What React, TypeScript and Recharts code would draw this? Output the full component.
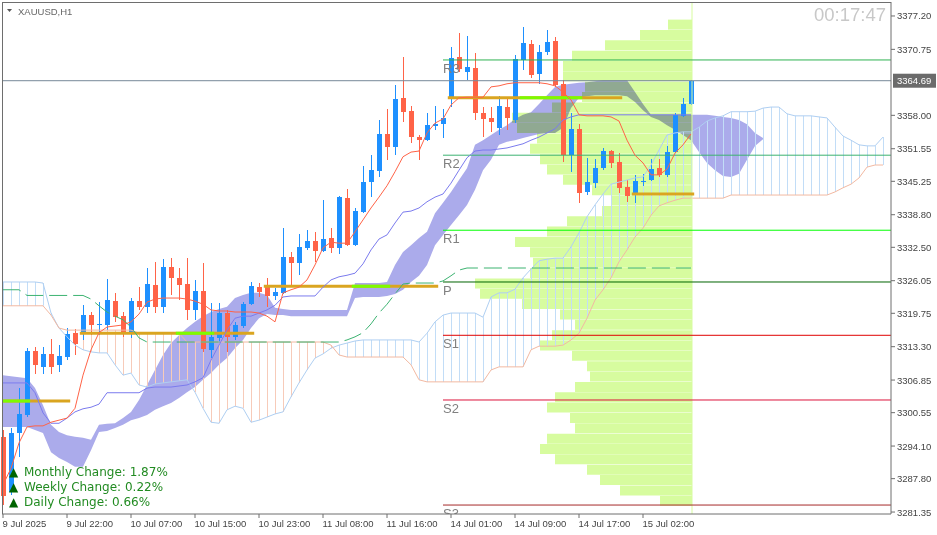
import React from 'react'
import { ComposedChart, BarChart, Bar, Line, Area, XAxis, YAxis, ReferenceLine } from 'recharts'

const W = 937
const H = 535

// price scale labels printed by the terminal
const priceTicks = [3377.2, 3370.75, 3358.0, 3351.55, 3345.25, 3338.8, 3332.5, 3326.05, 3319.75, 3313.3, 3306.85, 3300.55, 3294.1, 3287.8, 3281.35]
const timeTickBars = [0, 8, 16, 24, 32, 40, 48, 56, 64, 72, 80]
const timeTickLabels = ['9 Jul 2025', '9 Jul 22:00', '10 Jul 07:00', '10 Jul 15:00', '10 Jul 23:00', '11 Jul 08:00', '11 Jul 16:00', '14 Jul 01:00', '14 Jul 09:00', '14 Jul 17:00', '15 Jul 02:00']
const lastPrice = 3364.69

// H1 candles, 9 Jul 14:00 .. 15 Jul 08:00
const open = [3295.9, 3285.2, 3296.6, 3300.1, 3312.5, 3309.4, 3311.9, 3309.8, 3311.3, 3315.9,
  3315.9, 3319.4, 3317.5, 3317.5, 3322.1, 3319.2, 3315.8, 3322.1, 3321.0, 3325.2,
  3321.0, 3328.7, 3326.6, 3325.4, 3320.4, 3324.1, 3312.7, 3315.0, 3319.8, 3315.2,
  3317.3, 3321.5, 3324.8, 3325.2, 3323.1, 3323.7, 3330.6, 3329.5, 3332.4, 3333.7,
  3331.8, 3334.3, 3332.4, 3342.0, 3333.0, 3339.3, 3345.1, 3347.3, 3354.4, 3351.9,
  3361.4, 3358.8, 3353.8, 3353.2, 3355.9, 3356.3, 3361.2, 3369.3, 3366.4, 3367.2,
  3358.5, 3357.5, 3355.6, 3359.6, 3357.1, 3368.7, 3371.8, 3366.0, 3370.2, 3372.4,
  3364.1, 3350.3, 3355.4, 3343.2, 3344.9, 3347.8, 3351.1, 3349.0, 3344.2, 3342.6,
  3345.1, 3345.5, 3347.8, 3346.5, 3350.9, 3357.9, 3360.2]
const high = [3297.2, 3297.6, 3305.3, 3313.0, 3313.2, 3313.2, 3314.8, 3313.6, 3316.9, 3316.7,
  3321.4, 3320.0, 3321.9, 3326.4, 3323.7, 3320.0, 3322.7, 3324.8, 3328.5, 3329.7,
  3330.2, 3330.4, 3328.5, 3330.4, 3326.2, 3329.5, 3321.7, 3321.7, 3320.4, 3318.1,
  3321.9, 3325.8, 3325.6, 3326.6, 3324.6, 3336.2, 3331.6, 3335.1, 3335.9, 3335.5,
  3341.6, 3336.2, 3342.4, 3343.8, 3340.1, 3348.2, 3350.3, 3357.1, 3359.2, 3363.9,
  3369.3, 3359.8, 3354.2, 3358.5, 3359.8, 3359.2, 3371.2, 3373.9, 3373.3, 3370.1,
  3359.6, 3359.6, 3361.7, 3361.4, 3369.7, 3375.1, 3372.6, 3371.6, 3374.5, 3373.1,
  3364.8, 3358.5, 3356.3, 3349.8, 3349.6, 3351.7, 3351.3, 3350.7, 3345.5, 3346.5,
  3346.7, 3349.6, 3349.6, 3352.1, 3358.5, 3361.4, 3364.8]
const low = [3282.7, 3284.6, 3292.0, 3299.7, 3308.0, 3308.0, 3308.0, 3308.4, 3310.7, 3311.7,
  3314.6, 3315.6, 3315.6, 3316.5, 3318.1, 3315.2, 3315.0, 3320.4, 3319.8, 3319.8,
  3319.8, 3323.3, 3322.3, 3318.5, 3318.5, 3312.3, 3311.1, 3314.0, 3312.3, 3314.6,
  3316.9, 3321.4, 3322.9, 3321.0, 3322.3, 3323.5, 3324.8, 3327.2, 3332.0, 3329.7,
  3331.6, 3331.4, 3331.2, 3332.8, 3332.8, 3339.2, 3342.2, 3346.1, 3349.4, 3350.3,
  3356.7, 3352.7, 3349.4, 3353.1, 3355.2, 3353.6, 3359.6, 3366.4, 3364.8, 3357.1,
  3353.8, 3354.8, 3354.2, 3355.2, 3356.5, 3366.8, 3365.2, 3364.1, 3369.7, 3363.5,
  3349.0, 3347.1, 3341.1, 3342.6, 3344.0, 3347.4, 3347.8, 3343.0, 3341.3, 3341.1,
  3344.4, 3345.3, 3346.1, 3346.1, 3350.7, 3357.7, 3360.0]
const close = [3284.5, 3296.6, 3300.3, 3312.5, 3309.8, 3311.9, 3309.4, 3311.5, 3315.8, 3313.8,
  3319.4, 3317.5, 3317.7, 3322.3, 3319.0, 3315.9, 3322.1, 3321.0, 3325.4, 3321.0,
  3328.7, 3326.6, 3325.2, 3320.4, 3324.1, 3312.9, 3315.2, 3319.8, 3315.2, 3317.5,
  3321.5, 3325.0, 3323.9, 3323.1, 3323.9, 3330.6, 3329.5, 3332.6, 3333.7, 3331.8,
  3334.1, 3332.4, 3342.2, 3333.0, 3339.5, 3345.1, 3347.4, 3354.4, 3351.9, 3361.2,
  3358.7, 3353.8, 3353.2, 3356.1, 3356.3, 3357.5, 3369.1, 3367.0, 3367.3, 3358.5,
  3357.3, 3356.7, 3359.8, 3357.5, 3368.9, 3372.0, 3365.8, 3370.2, 3372.2, 3363.9,
  3350.3, 3355.4, 3343.0, 3345.1, 3347.8, 3351.1, 3348.8, 3344.0, 3342.4, 3345.3,
  3345.3, 3347.6, 3346.5, 3350.9, 3358.1, 3360.2, 3364.69]

// ichimoku lines
const tenkan = [3286.6, 3289.8, 3294.7, 3297.8, 3298.0, 3298.0, 3298.7, 3299.1, 3299.5, 3301.4,
  3307.8, 3312.7, 3316.0, 3317.1, 3317.3, 3317.5, 3318.1, 3319.6, 3321.9, 3322.5,
  3322.7, 3322.7, 3322.7, 3322.5, 3322.1, 3321.5, 3320.4, 3320.2, 3320.2, 3320.0,
  3320.0, 3320.0, 3319.8, 3319.2, 3318.1, 3323.7, 3324.3, 3324.8, 3326.2, 3329.1,
  3332.4, 3333.5, 3333.3, 3333.3, 3335.5, 3337.8, 3340.1, 3342.2, 3344.4, 3347.1,
  3350.0, 3350.9, 3351.1, 3354.6, 3356.5, 3357.3, 3360.0, 3361.4, 3361.5, 3361.5,
  3361.5, 3363.5, 3363.7, 3364.1, 3364.3, 3364.3, 3364.3, 3364.3, 3364.1, 3363.7,
  3362.5, 3361.0, 3358.1, 3357.9, 3357.9, 3357.9, 3357.7, 3356.9, 3353.2, 3350.3,
  3348.8, 3346.5, 3346.5, 3347.6, 3350.7, 3352.3, 3354.4]
const kijun = [3306.3, 3306.3, 3306.3, 3306.3, 3304.4, 3300.5, 3298.5, 3298.5, 3299.5, 3300.7,
  3301.3, 3301.6, 3302.2, 3304.4, 3304.4, 3304.4, 3304.4, 3304.4, 3305.3, 3305.5,
  3305.5, 3305.5, 3305.7, 3305.9, 3306.5, 3307.3, 3310.7, 3313.6, 3316.5, 3318.8,
  3319.2, 3319.2, 3319.8, 3320.4, 3321.3, 3322.9, 3323.1, 3323.1, 3323.1, 3323.1,
  3324.8, 3326.2, 3326.8, 3327.1, 3327.5, 3329.3, 3332.0, 3334.1, 3334.9, 3337.2,
  3339.3, 3339.5, 3340.1, 3341.3, 3342.2, 3342.8, 3344.9, 3347.4, 3349.8, 3351.1,
  3351.3, 3351.3, 3351.5, 3351.7, 3352.1, 3352.5, 3353.2, 3353.8, 3354.6, 3355.4,
  3357.1, 3357.7, 3358.1, 3358.1, 3358.1, 3358.1, 3358.1, 3358.1, 3358.1, 3358.1,
  3358.1, 3358.1, 3358.1, 3358.1, 3358.1, 3358.1, 3358.1]
const dashedLevel = [3324.3, 3324.3, 3324.3, 3323.2, 3323.2, 3323.2, 3323.2, 3323.2, 3323.2, 3323.2,
  3323.2, 3322.5, 3321.2, 3320.0, 3319.2, 3318.5, 3317.1, 3315.0, 3314.2, 3314.2,
  3314.2, 3314.2, 3314.2, 3314.2, 3314.2, 3314.2, 3314.2, 3314.2, 3314.2, 3314.2,
  3314.2, 3314.2, 3314.2, 3314.2, 3314.2, 3314.2, 3314.2, 3314.2, 3314.2, 3314.2,
  3314.2, 3314.2, 3314.2, 3314.6, 3315.2, 3316.0, 3317.7, 3319.8, 3321.5, 3323.5,
  3325.4, 3325.6, 3325.6, 3325.6, 3325.6, 3326.0, 3327.0, 3328.1, 3328.5, 3328.5,
  3328.5, 3328.5, 3328.5, 3328.5, 3328.5, 3328.5, 3328.5, 3328.5, 3328.5, 3328.5,
  3328.5, 3328.5, 3328.5, 3328.5, 3328.5, 3328.5, 3328.5, 3328.5, 3328.5, 3328.5,
  3328.5, 3328.5, 3328.5, 3328.5, 3328.5, 3328.5, 3328.5]
const spanA = [3325.8, 3325.8, 3325.8, 3325.8, 3325.8, 3325.6, 3319.8, 3316.9, 3315.2, 3313.6,
  3312.7, 3312.3, 3312.1, 3312.1, 3309.8, 3307.8, 3308.2, 3305.9, 3305.5, 3306.1,
  3306.3, 3306.5, 3306.7, 3306.9, 3304.5, 3301.4, 3298.7, 3298.5, 3301.1, 3301.8,
  3301.4, 3298.7, 3299.1, 3299.7, 3300.3, 3300.7, 3303.6, 3306.3, 3308.8, 3311.1,
  3311.9, 3313.0, 3313.6, 3314.0, 3314.4, 3314.6, 3314.6, 3314.6, 3314.6, 3314.6,
  3314.6, 3314.6, 3314.2, 3315.9, 3318.1, 3319.4, 3319.8, 3319.8, 3319.8, 3319.8,
  3319.0, 3322.9, 3323.7, 3323.7, 3324.4, 3326.6, 3328.3, 3329.9, 3330.2, 3330.4,
  3330.4, 3332.6, 3335.3, 3338.4, 3340.7, 3342.8, 3344.7, 3345.1, 3345.5, 3345.9,
  3346.1, 3348.4, 3351.3, 3354.2, 3354.6, 3354.8, 3354.8, 3355.7, 3356.9, 3357.5,
  3357.9, 3358.7, 3358.7, 3358.7, 3358.8, 3359.4, 3359.6, 3359.6, 3358.3, 3357.9,
  3357.9, 3357.9, 3357.7, 3357.5, 3355.7, 3354.0, 3353.2, 3352.3, 3352.1, 3352.1,
  3353.8]
const spanB = [3321.2, 3321.2, 3321.2, 3321.2, 3321.2, 3321.2, 3319.4, 3316.9, 3316.5, 3316.5,
  3316.5, 3316.5, 3316.5, 3316.5, 3316.5, 3316.5, 3316.5, 3315.9, 3315.9, 3315.9,
  3315.9, 3315.9, 3315.9, 3314.2, 3314.2, 3314.2, 3314.2, 3314.2, 3314.2, 3314.2,
  3314.2, 3314.2, 3314.2, 3314.2, 3314.2, 3314.2, 3314.2, 3314.2, 3314.2, 3314.2,
  3314.2, 3313.6, 3311.7, 3311.3, 3311.3, 3311.3, 3311.3, 3311.3, 3311.3, 3311.3,
  3311.3, 3309.8, 3306.9, 3306.5, 3306.5, 3306.5, 3306.5, 3306.5, 3306.5, 3306.5,
  3306.5, 3308.8, 3309.4, 3309.4, 3309.4, 3309.4, 3312.7, 3313.4, 3313.4, 3313.4,
  3313.6, 3314.6, 3315.9, 3318.8, 3322.3, 3324.3, 3326.6, 3329.7, 3332.0, 3334.5,
  3336.2, 3338.7, 3340.5, 3341.1, 3341.6, 3342.0, 3342.0, 3342.0, 3342.0, 3342.0,
  3342.0, 3342.6, 3342.6, 3342.6, 3342.6, 3342.6, 3342.6, 3342.6, 3342.6, 3342.6,
  3342.6, 3342.6, 3342.6, 3342.6, 3343.2, 3344.0, 3344.7, 3345.9, 3348.0, 3348.4,
  3348.4]
// filled cloud (upper / lower edge)
const cloudTop = [3307.8, 3307.6, 3307.4, 3307.2, 3305.3, 3302.0, 3298.2, 3296.8, 3296.2, 3295.9,
  3295.7, 3295.3, 3298.2, 3298.4, 3298.5, 3299.5, 3300.7, 3303.0, 3305.9, 3308.8,
  3311.7, 3314.0, 3315.5, 3316.9, 3318.1, 3319.2, 3320.0, 3320.6, 3321.0, 3322.7,
  3323.3, 3323.7, 3323.7, 3323.3, 3320.8, 3320.6, 3320.4, 3320.4, 3320.4, 3320.4,
  3320.4, 3320.4, 3320.4, 3320.4, 3325.6, 3325.6, 3325.6, 3325.6, 3325.8, 3329.1,
  3331.6, 3332.9, 3334.3, 3335.5, 3339.1, 3341.1, 3343.2, 3345.5, 3347.8, 3352.3,
  3353.2, 3354.2, 3355.2, 3356.1, 3357.3, 3358.1, 3358.6, 3360.2, 3361.9, 3363.5,
  3363.9, 3364.1, 3364.3, 3364.4, 3364.6, 3364.8, 3364.8, 3364.8, 3364.8, 3362.5,
  3360.2, 3358.1, 3358.1, 3358.1, 3358.1, 3358.1, 3358.1, 3358.1, 3358.1, 3357.9,
  3357.7, 3357.5, 3357.1, 3356.3, 3354.6, 3353.6]
const cloudBottom = [3297.8, 3297.8, 3297.8, 3297.8, 3297.2, 3296.6, 3292.9, 3291.8, 3291.0, 3290.1,
  3290.1, 3293.3, 3296.8, 3297.0, 3297.6, 3298.2, 3299.1, 3299.5, 3300.1, 3301.1,
  3301.8, 3302.4, 3303.4, 3304.5, 3305.5, 3306.9, 3308.2, 3309.8, 3311.1, 3313.0,
  3314.6, 3316.9, 3318.8, 3319.6, 3319.4, 3319.4, 3319.2, 3319.2, 3319.2, 3319.2,
  3319.2, 3319.2, 3319.2, 3319.2, 3322.7, 3322.9, 3322.9, 3322.9, 3323.1, 3323.5,
  3324.3, 3325.8, 3327.0, 3329.1, 3332.9, 3334.9, 3336.8, 3338.7, 3340.7, 3343.6,
  3347.4, 3349.4, 3352.3, 3352.9, 3353.2, 3353.6, 3354.0, 3354.4, 3354.6, 3354.6,
  3355.6, 3359.4, 3361.4, 3361.7, 3361.9, 3361.9, 3361.9, 3361.9, 3361.7, 3360.6,
  3359.0, 3357.7, 3357.1, 3356.1, 3355.2, 3354.2, 3353.2, 3350.9, 3348.8, 3347.4,
  3346.3, 3346.1, 3346.7, 3349.4, 3352.1, 3353.4]

// volume profile, 2.0 price buckets from the top
const profilePrice = [3375.5, 3373.5, 3371.5, 3369.5, 3367.5, 3365.5, 3363.5, 3361.5, 3359.5, 3357.5,
  3355.5, 3353.5, 3351.5, 3349.5, 3347.5, 3345.5, 3343.5, 3341.5, 3339.5, 3337.5,
  3335.5, 3333.5, 3331.5, 3329.5, 3327.5, 3325.5, 3323.5, 3321.5, 3319.5, 3317.5,
  3315.5, 3313.5, 3311.5, 3309.5, 3307.5, 3305.5, 3303.5, 3301.5, 3299.5, 3297.5,
  3295.5, 3293.5, 3291.5, 3289.5, 3287.5, 3285.5, 3283.5]
const profileVolume = [24, 52, 87, 120, 129, 129, 107, 110, 140, 180,
  175, 155, 162, 152, 145, 129, 100, 80, 90, 125,
  145, 177, 162, 159, 162, 217, 212, 170, 132, 117,
  140, 152, 120, 105, 102, 117, 137, 145, 122, 117,
  145, 152, 137, 105, 92, 72, 32]

// daily pivots
const pivotNames = ['R3', 'R2', 'R1', 'P', 'S1', 'S2', 'S3']
const pivotPrices = [3368.7, 3350.3, 3335.8, 3325.8, 3315.5, 3303.0, 3282.7]
const pivotColors = ['#2FB352', '#3CB371', '#00FF00', '#006400', '#E00000', '#DC143C', '#A52A2A']
const pivotFromBar = 55

// per-session point of control and high volume zone
const pocPrice = [3302.8, 3315.9, 3325.0, 3361.4, 3342.8]
const pocFirstBar = [0, 10, 33, 56, 79]
const pocLastBar = [8, 31, 54, 77, 86]
const hvnFirstBar = [0, 22, 44, 65]
const hvnLastBar = [3, 26, 48, 72]

const rows = Array.from({ length: 111 }, (_, i) => ({
  i,
  o: open[i], h: high[i], l: low[i], c: close[i],
  tenkan: tenkan[i], kijun: kijun[i], dashed: dashedLevel[i],
  spanA: spanA[i], spanB: spanB[i],
  cloudTop: cloudTop[i], cloudBottom: cloudBottom[i],
}))
const profileRows = profilePrice.map((p, k) => ({ price: p, vol: profileVolume[k] }))

const AXIS_FONT = "'Liberation Sans', Arial, sans-serif"

function Candle(props: any) {
  const { x, y, width, height, payload } = props
  if (!payload || payload.o == null) return null
  const { o, h, l, c } = payload
  const span = h - l || 1
  const py = (v: number) => y + ((h - v) / span) * height
  const cx = Math.round(x + width / 2)
  const color = c >= o ? '#1E90FF' : '#FF6347'
  const top = Math.round(py(Math.max(o, c)))
  const bot = Math.round(py(Math.min(o, c)))
  return (
    <g>
      <line x1={cx + 0.5} x2={cx + 0.5} y1={Math.round(y)} y2={Math.round(y + height)} stroke={color} />
      <rect x={cx - 2} y={top} width={5} height={Math.max(bot - top, 1)} fill={color} />
    </g>
  )
}

function Hatch(props: any) {
  const { x, y, width, height, payload } = props
  if (!payload || payload.spanA == null) return null
  const cx = Math.round(x + width / 2) + 0.5
  const color = payload.spanA >= payload.spanB ? '#C2DDF7' : '#F7CBB9'
  return <line x1={cx} x2={cx} y1={y} y2={y + height} stroke={color} />
}

function TimeTick({ x, y, payload }: any) {
  const k = timeTickBars.indexOf(payload.value)
  return (
    <text x={x - 0.5} y={y + 7} fontSize={9.5} fontFamily={AXIS_FONT} fill="#444" textAnchor="start">
      {timeTickLabels[k]}
    </text>
  )
}

function PriceTick({ x, y, payload }: any) {
  return (
    <text x={x} y={y + 3.5} fontSize={9.5} fontFamily={AXIS_FONT} fill="#444" textAnchor="start">
      {payload.value.toFixed(2)}
    </text>
  )
}

const pivotLabel = (name: string) => (props: any) => {
  const vb = props.viewBox
  return (
    <svg x={0} y={0} width={891} height={514} overflow="hidden">
      <text x={vb.x} y={vb.y + 13} fontSize={13} fontFamily={AXIS_FONT} fill="#808080">{name}</text>
    </svg>
  )
}

function PriceTag(props: any) {
  const vb = props.viewBox
  const x = vb.x + vb.width + 2
  return (
    <g>
      <rect x={x} y={vb.y - 7} width={43} height={14} fill="#6B6B6B" />
      <text x={x + 4} y={vb.y + 3.5} fontSize={9.5} fontFamily={AXIS_FONT} fill="#fff">{lastPrice.toFixed(2)}</text>
    </g>
  )
}

export default function App() {
  const xDomain = [-0.125, 111]
  return (
    <div style={{ position: 'absolute', left: 0, top: 0, width: W, height: H, background: '#fff', overflow: 'hidden' }}>
      <style>{'.cloud path { mix-blend-mode: multiply; }'}</style>

      {/* volume profile, anchored on the last bar */}
      <div style={{ position: 'absolute', left: 0, top: 0 }}>
        <BarChart layout="vertical" width={W} height={H} data={profileRows}
          margin={{ top: 19.6, right: 245, bottom: 28.9, left: 2 }} barCategoryGap={0} barGap={0}>
          <XAxis type="number" domain={[0, 690]} reversed hide />
          <YAxis type="category" dataKey="price" hide />
          <Bar dataKey="vol" fill="#D7FC9F" isAnimationActive={false} />
        </BarChart>
      </div>

      <div style={{ position: 'absolute', left: 0, top: 0 }}>
        <ComposedChart width={W} height={H} data={rows} margin={{ top: 2, right: 0, bottom: 0, left: 2 }}>
          <XAxis type="number" dataKey="i" domain={xDomain} ticks={timeTickBars} interval={0}
            tick={<TimeTick />} tickSize={4} height={21}
            axisLine={{ stroke: '#6e6e6e' }} tickLine={{ stroke: '#6e6e6e' }} />
          <XAxis xAxisId="h" type="number" dataKey="i" domain={xDomain} hide />
          <YAxis orientation="right" type="number" domain={[3280.97, 3379.9]} ticks={priceTicks} interval={0}
            tick={<PriceTick />} tickSize={4} width={46}
            axisLine={{ stroke: '#6e6e6e' }} tickLine={{ stroke: '#6e6e6e' }} />

          <Bar xAxisId="h" dataKey={(d: any) => (d.spanA == null ? null : [Math.min(d.spanA, d.spanB), Math.max(d.spanA, d.spanB)])}
            barSize={1} shape={<Hatch />} isAnimationActive={false} />
          <Line dataKey="spanA" stroke="#AFCFF2" dot={false} activeDot={false} isAnimationActive={false} />
          <Line dataKey="spanB" stroke="#F2B9A2" dot={false} activeDot={false} isAnimationActive={false} />
          <Area className="cloud" type="linear"
            dataKey={(d: any) => (d.cloudTop == null ? null : [d.cloudBottom, d.cloudTop])}
            stroke="none" fill="#ABABEB" fillOpacity={1} isAnimationActive={false} activeDot={false} />

          <ReferenceLine x={86.125} stroke="#D7FC9F" />
          {pivotNames.map((n, k) => (
            <ReferenceLine key={n} segment={[{ x: pivotFromBar, y: pivotPrices[k] }, { x: 111, y: pivotPrices[k] }]}
              stroke={pivotColors[k]} ifOverflow="visible" label={pivotLabel(n)} />
          ))}
          {pocPrice.map((p, k) => (
            <ReferenceLine key={'poc' + k} segment={[{ x: pocFirstBar[k] - 0.4, y: p }, { x: pocLastBar[k] + 0.4, y: p }]}
              stroke="#DAA520" strokeWidth={3} ifOverflow="hidden" />
          ))}
          {hvnFirstBar.map((b, k) => (
            <ReferenceLine key={'hvn' + k} segment={[{ x: b - 0.4, y: pocPrice[k] }, { x: hvnLastBar[k] + 0.4, y: pocPrice[k] }]}
              stroke="#7CFC00" strokeWidth={3} ifOverflow="hidden" />
          ))}

          <Line dataKey="dashed" stroke="#3CB371" strokeDasharray="18 6" dot={false} activeDot={false} isAnimationActive={false} />
          <Line dataKey="kijun" stroke="#7B7BEE" dot={false} activeDot={false} isAnimationActive={false} />
          <Line dataKey="tenkan" stroke="#FF6347" dot={false} activeDot={false} isAnimationActive={false} />

          <Bar dataKey={(d: any) => (d.o == null ? null : [d.l, d.h])} barSize={5} shape={<Candle />} isAnimationActive={false} />

          <ReferenceLine y={lastPrice} stroke="#778899" ifOverflow="visible" label={<PriceTag />} />
        </ComposedChart>
      </div>

      <div style={{ position: 'absolute', left: 2, top: 2, width: 889, height: 512, borderLeft: '1px solid #6e6e6e', borderTop: '1px solid #6e6e6e', boxSizing: 'border-box', pointerEvents: 'none' }} />

      <svg width={W} height={H} style={{ position: 'absolute', left: 0, top: 0, pointerEvents: 'none' }}>
        <polygon points="7,9 12,9 9.5,12" fill="#555" />
        <text x={18} y={15} fontSize={9.5} fontFamily={AXIS_FONT} fill="#666">XAUUSD,H1</text>
        <text x={886} y={21} fontSize={18.5} fontFamily={AXIS_FONT} fill="#C8C8C8" textAnchor="end">00:17:47</text>
        <g fontFamily="'DejaVu Sans', Verdana, sans-serif" fontSize={12}>
          <text x={9} y={476} fill="#006400">▲</text>
          <text x={24} y={476} fill="#228B22">Monthly Change: 1.87%</text>
          <text x={9} y={491} fill="#006400">▲</text>
          <text x={24} y={491} fill="#228B22">Weekly Change: 0.22%</text>
          <text x={9} y={506} fill="#006400">▲</text>
          <text x={24} y={506} fill="#228B22">Daily Change: 0.66%</text>
        </g>
      </svg>
    </div>
  )
}
